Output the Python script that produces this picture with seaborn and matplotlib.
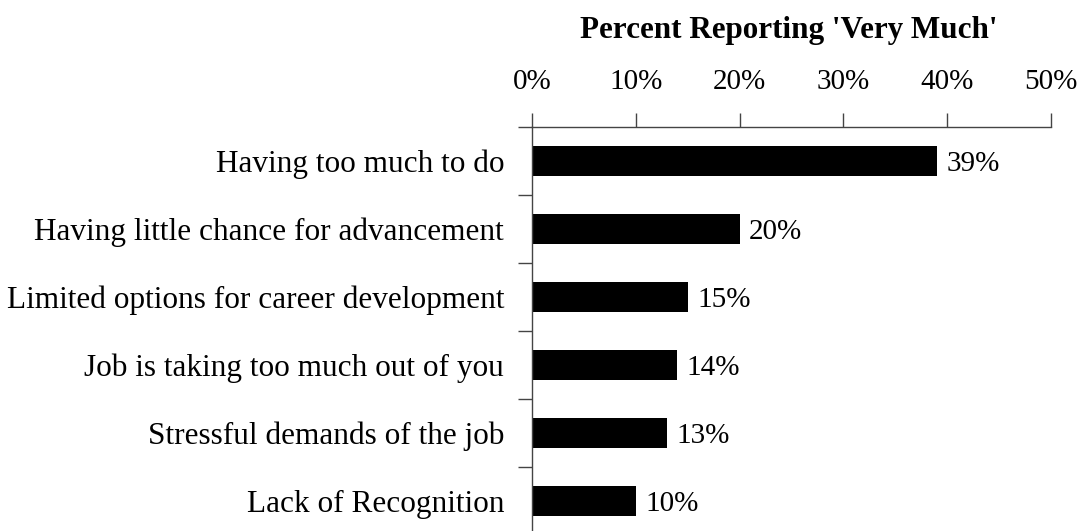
import matplotlib
matplotlib.use("Agg")
import matplotlib.pyplot as plt
import seaborn as sns
import pandas as pd
from matplotlib.ticker import FixedLocator, PercentFormatter

categories = [
    "Having too much to do",
    "Having little chance for advancement",
    "Limited options for career development",
    "Job is taking too much out of you",
    "Stressful demands of the job",
    "Lack of Recognition",
]
percent_very_much = [39, 20, 15, 14, 13, 10]
x_ticks = [0, 10, 20, 30, 40, 50]
title = "Percent Reporting 'Very Much'"

sns.set_style("white")
plt.rcParams["font.family"] = ["Liberation Serif", "DejaVu Serif"]
plt.rcParams["text.color"] = "black"
plt.rcParams["xtick.labelcolor"] = "black"
plt.rcParams["ytick.labelcolor"] = "black"

df = pd.DataFrame({"category": categories, "pct": percent_very_much})

fig = plt.figure(figsize=(10.81, 5.31), dpi=100)
ax = fig.add_axes([532 / 1081, -4 / 531, (1051 - 532) / 1081, (535 - 127) / 531])

sns.barplot(data=df, y="category", x="pct", orient="h", color="black",
            width=0.43, saturation=1, ax=ax, edgecolor="black", linewidth=0)

ax.set_xlim(0, 50)
ax.set_ylim(len(categories) - 0.5, -0.5)
ax.set_xlabel("")
ax.set_ylabel("")

# percentage axis along the top
ax.xaxis.tick_top()
ax.set_xticks(x_ticks)
ax.xaxis.set_major_formatter(PercentFormatter(decimals=0))
ax.tick_params(axis="x", which="major", direction="out", length=10, width=1,
               color="#444444", labelcolor="black", labelsize=21, pad=13)

# category labels, with separator ticks between categories
ax.tick_params(axis="y", which="major", length=0, labelcolor="black",
               labelsize=22.5, pad=20)
ax.yaxis.set_minor_locator(FixedLocator([i - 0.5 for i in range(len(categories) + 1)]))
ax.tick_params(axis="y", which="minor", direction="out", length=10, width=1,
               color="#444444", left=True)

for side in ["right", "bottom"]:
    ax.spines[side].set_visible(False)
for side in ["top", "left"]:
    ax.spines[side].set_visible(True)
    ax.spines[side].set_color("#444444")
    ax.spines[side].set_linewidth(1)

for i, v in enumerate(percent_very_much):
    ax.text(v + 0.9, i, f"{v}%", va="center_baseline", ha="left", fontsize=21,
            color="black")

fig.text(789 / 1081, 1 - 38 / 531, title, ha="center", va="baseline",
         fontsize=22.4, fontweight="bold", color="black")

fig.savefig("out.png", dpi=100)
